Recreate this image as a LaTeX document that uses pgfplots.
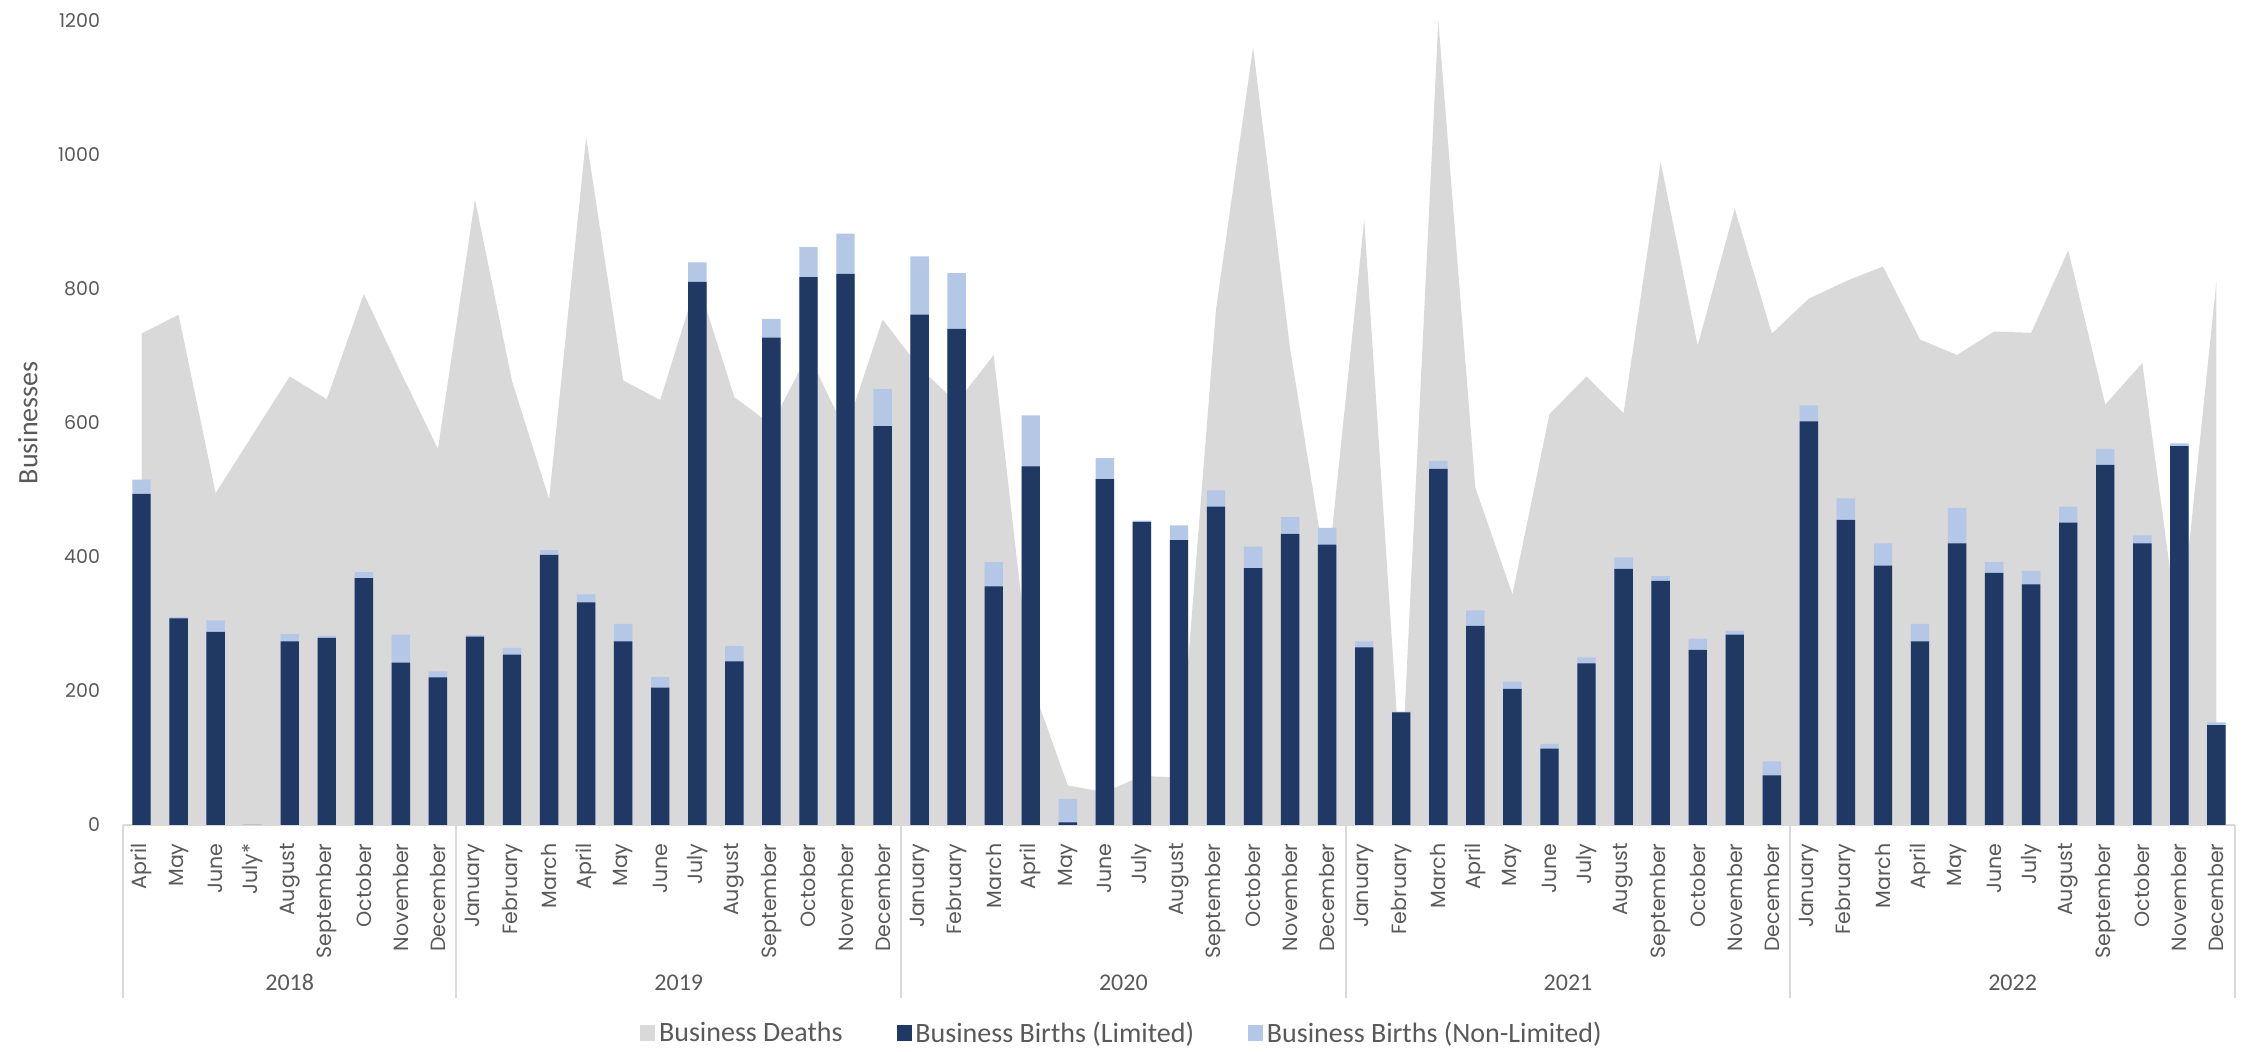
\documentclass[border=0pt]{standalone}
\usepackage{fontspec}
\setmainfont{Carlito}
\newfontfamily\gothic{Poppins}
\usepackage{pgfplots}
\usepackage{pgfplotstable}
\pgfplotsset{compat=1.18}
\definecolor{deathgray}{HTML}{D9D9D9}
\definecolor{navy}{HTML}{203864}
\definecolor{lblue}{HTML}{B4C7E7}
\definecolor{txtgray}{HTML}{595959}
\pgfplotstableread{
i lim non deaths
0 494 21 733
1 308 2 761
2 288 17 495
3 0 0 582
4 274 11 669
5 279 3 635
6 368 9 792
7 242 42 675
8 220 9 561
9 281 2 933
10 254 10 662
11 403 7 486
12 332 12 1026
13 274 26 663
14 205 16 634
15 810 29 812
16 244 23 638
17 727 28 597
18 817 45 703
19 822 60 587
20 595 55 754
21 761 87 682
22 740 83 630
23 356 36 701
24 535 76 214
25 4 35 59
26 516 31 49
27 452 2 73
28 425 22 71
29 475 24 769
30 383 32 1160
31 434 25 710
32 418 25 368
33 265 9 903
34 168 1 63
35 531 12 1200
36 297 23 503
37 203 11 344
38 114 7 613
39 241 9 669
40 382 17 614
41 364 7 989
42 261 17 715
43 284 6 919
44 74 21 733
45 602 24 785
46 455 32 811
47 387 33 833
48 274 26 724
49 420 53 701
50 376 16 736
51 359 20 734
52 451 24 857
53 537 24 627
54 420 12 689
55 565 4 277
56 149 4 811
}\data

\begin{document}
\begin{tikzpicture}
\path[use as bounding box] (-61.5pt,-113.5pt) rectangle (1060.5pt,412.5pt);
\begin{axis}[
  at={(0pt,0pt)}, anchor=south west,
  scale only axis, width=1056pt, height=402.3pt,
  xmin=-0.5, xmax=56.5, ymin=0, ymax=1200,
  ytick={0,200,...,1200},
  xtick={0,...,56},
  xticklabels={April,May,June,July*,August,September,October,November,December,
    January,February,March,April,May,June,July,August,September,October,November,December,
    January,February,March,April,May,June,July,August,September,October,November,December,
    January,February,March,April,May,June,July,August,September,October,November,December,
    January,February,March,April,May,June,July,August,September,October,November,December},
  axis x line*=bottom, axis y line*=left,
  x axis line style={draw=deathgray, line width=1pt},
  y axis line style={draw=none},
  major tick length=0pt,
  tick style={draw=none},
  /pgf/number format/assume math mode=true,
  /pgf/number format/1000 sep={},
  yticklabel style={font=\gothic\fontsize{9.5}{11}\selectfont, text=txtgray},
  yticklabel shift=8pt,
  xticklabel style={font=\gothic\fontsize{10.3}{12}\selectfont, text=txtgray, rotate=90, anchor=east},
  xticklabel shift=5.7pt,
  ylabel={Businesses},
  ylabel style={at={(axis description cs:-0.045,0.5)}, anchor=center, font=\fontsize{14}{16}\selectfont, text=txtgray},
  clip=false,
  legend style={at={(0.4735,-0.259)}, anchor=center, draw=none, fill=none,
    legend columns=3, font=\fontsize{14}{16}\selectfont, text=txtgray,
    /tikz/every even column/.append style={column sep=25pt}},
]
\addplot[fill=deathgray, draw=none, forget plot] table[x=i, y=deaths] {\data} \closedcycle;
\addplot[ybar, bar width=9.2pt, bar shift=0pt, fill=lblue, draw=none, forget plot]
  table[x=i, y expr=\thisrow{lim}+\thisrow{non}] {\data};
\addplot[ybar, bar width=9.2pt, bar shift=0pt, fill=navy, draw=none, forget plot]
  table[x=i, y=lim] {\data};

\addlegendimage{legend image code/.code={\fill[deathgray] (0pt,-3.75pt) rectangle (7pt,3.75pt);}}
\addlegendentry{Business Deaths}
\addlegendimage{legend image code/.code={\fill[navy] (0pt,-3.75pt) rectangle (7pt,3.75pt);}}
\addlegendentry{Business Births (Limited)}
\addlegendimage{legend image code/.code={\fill[lblue] (0pt,-3.75pt) rectangle (7pt,3.75pt);}}
\addlegendentry{Business Births (Non-Limited)}

\pgfplotsinvokeforeach{-0.5,8.5,20.5,32.5,44.5,56.5}{
  \draw[deathgray, line width=1pt] (axis cs:#1,0) -- ++(0pt,-86.4pt);
}
\node[font=\fontsize{12}{14}\selectfont, text=txtgray] at (axis cs:4,0) [yshift=-78.9pt] {2018};
\node[font=\fontsize{12}{14}\selectfont, text=txtgray] at (axis cs:14.5,0) [yshift=-78.9pt] {2019};
\node[font=\fontsize{12}{14}\selectfont, text=txtgray] at (axis cs:26.5,0) [yshift=-78.9pt] {2020};
\node[font=\fontsize{12}{14}\selectfont, text=txtgray] at (axis cs:38.5,0) [yshift=-78.9pt] {2021};
\node[font=\fontsize{12}{14}\selectfont, text=txtgray] at (axis cs:50.5,0) [yshift=-78.9pt] {2022};
\end{axis}
\end{tikzpicture}
\end{document}
